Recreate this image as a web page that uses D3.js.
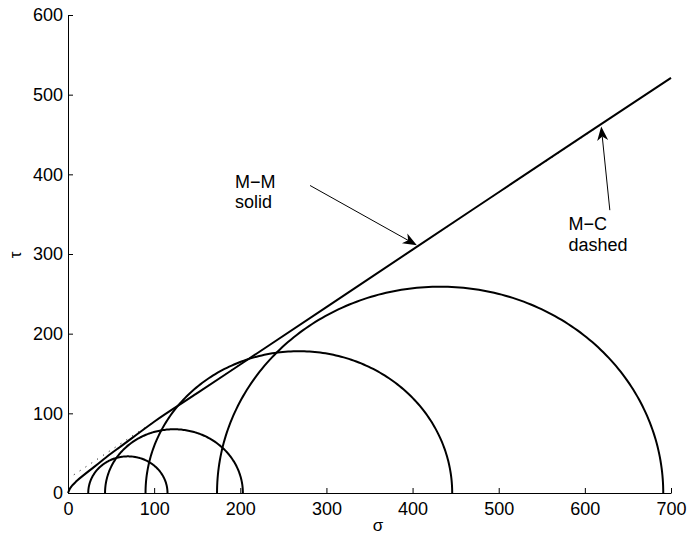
<!DOCTYPE html>
<html>
<head>
<meta charset="utf-8">
<script src="https://cdn.jsdelivr.net/npm/d3@7/dist/d3.min.js"></script>
<style>
  html, body { margin: 0; padding: 0; background: #fff; }
  svg { display: block; }
  text { font-family: "Liberation Sans", Arial, Helvetica, sans-serif; fill: #000; }
</style>
</head>
<body>
<svg id="chart" width="692" height="538"></svg>
<script>
// ---- data ----
const xTicks = [0, 100, 200, 300, 400, 500, 600, 700];
const yTicks = [0, 100, 200, 300, 400, 500, 600];

// Mohr circles: centre (sigma) and radius
const circleCenters = [69.5, 123, 268, 432];
const circleRadii   = [46, 80, 178, 259];

// M-M envelope (solid), sigma / tau pairs
const mmSigma = [0, 2, 5, 10, 20, 30, 40, 50, 60, 75, 100, 150, 200, 300, 400, 500, 600, 700];
const mmTau   = [0, 5, 9.5, 15, 24, 32.5, 41, 49.5, 57.5, 69.5, 89.5, 125.3, 161.3, 233.3, 305.5, 377.5, 449.5, 521];

// M-C envelope (dashed), straight line end points
const mcSigma = [0, 700];
const mcTau   = [18, 520.6];

// annotations: text lines, text anchor (sigma,tau) and arrow tail/tip (sigma,tau)
const annLines  = [["M\u2212M", "solid"], ["M\u2212C", "dashed"]];
const annText   = [[194, 383], [581, 330]];
const annTail   = [[281, 386], [629, 355]];
const annTip    = [[405, 311], [619, 460]];

// ---- layout ----
const W = 692, H = 538;
const m = { left: 68, right: 21, top: 15, bottom: 45 };
const svg = d3.select("#chart");
const x = d3.scaleLinear().domain([0, 700]).range([m.left, W - m.right]);
const y = d3.scaleLinear().domain([0, 600]).range([H - m.bottom, m.top]);

// axes
const xAxis = d3.axisBottom(x).tickValues(xTicks).tickSizeInner(-5).tickSizeOuter(0).tickPadding(9);
const yAxis = d3.axisLeft(y).tickValues(yTicks).tickSizeInner(-5).tickSizeOuter(0).tickPadding(9);

const gx = svg.append("g").attr("transform", `translate(0,${H - m.bottom})`).call(xAxis);
const gy = svg.append("g").attr("transform", `translate(${m.left},0)`).call(yAxis);
[gx, gy].forEach(g => {
  g.select(".domain").attr("stroke", "#000").attr("stroke-width", 1);
  g.selectAll(".tick line").attr("stroke", "#000").attr("stroke-width", 1);
  g.selectAll(".tick text").attr("font-size", 18).attr("font-family", "Liberation Sans, Arial, sans-serif").attr("fill", "#000");
});
gy.selectAll(".tick text").attr("dx", 4);

// axis labels
svg.append("text").attr("x", 378).attr("y", 531).attr("text-anchor", "middle")
  .attr("font-family", "DejaVu Serif, Liberation Serif, serif").attr("font-size", 17).text("\u03c3");
svg.append("text").attr("transform", "translate(21,255) rotate(-90)").attr("text-anchor", "middle")
  .attr("font-family", "DejaVu Serif, Liberation Serif, serif").attr("font-size", 17).text("\u03c4");

// circles (upper semicircles)
const plot = svg.append("g");
circleCenters.forEach((c, i) => {
  const r = circleRadii[i];
  const pts = d3.range(0, 181).map(a => {
    const t = Math.PI * a / 180;
    return [c + r * Math.cos(t), r * Math.sin(t)];
  });
  plot.append("path")
    .attr("d", d3.line().x(d => x(d[0])).y(d => y(d[1]))(pts))
    .attr("fill", "none").attr("stroke", "#000").attr("stroke-width", 2);
});

// M-C dashed line
plot.append("path")
  .attr("d", d3.line().x(d => x(d[0])).y(d => y(d[1]))(mcSigma.map((s, i) => [s, mcTau[i]])))
  .attr("fill", "none").attr("stroke", "#000").attr("stroke-width", 1)
  .attr("stroke-dasharray", "1,6");

// M-M solid curve
plot.append("path")
  .attr("d", d3.line().curve(d3.curveMonotoneX).x(d => x(d[0])).y(d => y(d[1]))(mmSigma.map((s, i) => [s, mmTau[i]])))
  .attr("fill", "none").attr("stroke", "#000").attr("stroke-width", 2);

// annotations
annLines.forEach((lines, i) => {
  const t = svg.append("text").attr("x", x(annText[i][0])).attr("y", y(annText[i][1]))
    .attr("font-size", 18);
  lines.forEach((l, j) => t.append("tspan").attr("x", x(annText[i][0])).attr("dy", j === 0 ? 0 : 20.5).text(l));

  const x1 = x(annTail[i][0]), y1 = y(annTail[i][1]);
  const x2 = x(annTip[i][0]), y2 = y(annTip[i][1]);
  const ang = Math.atan2(y2 - y1, x2 - x1);
  const L = 14, hw = 5.5, notch = 4;
  const ux = Math.cos(ang), uy = Math.sin(ang);
  const px = -uy, py = ux;
  const bx = x2 - ux * L, by = y2 - uy * L;
  const nx = x2 - ux * (L - notch), ny = y2 - uy * (L - notch);
  svg.append("line").attr("x1", x1).attr("y1", y1).attr("x2", nx).attr("y2", ny)
    .attr("stroke", "#000").attr("stroke-width", 1);
  svg.append("path")
    .attr("d", `M${x2},${y2} L${bx + px * hw},${by + py * hw} L${nx},${ny} L${bx - px * hw},${by - py * hw} Z`)
    .attr("fill", "#000");
});
</script>
</body>
</html>
